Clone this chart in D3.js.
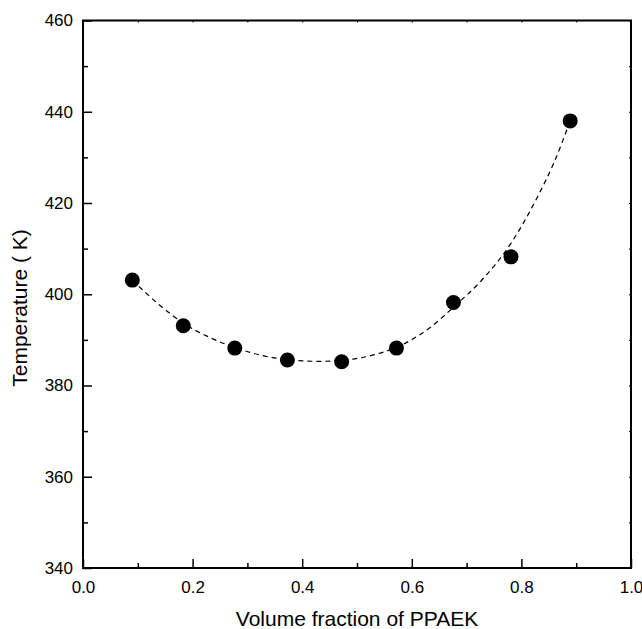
<html>
  <head>
    <title>PPAEK</title>
    <meta charset="utf-8" />
    <script src="https://cdnjs.cloudflare.com/ajax/libs/d3/7.6.1/d3.min.js"></script>
    <style>
      body { margin: 0; background: #fff; }
      svg { font-family: "Liberation Sans", Arial, sans-serif; }
    </style>
  </head>
  <body>
    <svg width="642" height="629"></svg>
  </body>

  <script>
    // measured points
    const fraction = [0.09, 0.183, 0.277, 0.373, 0.472, 0.572, 0.676, 0.781, 0.889];
    const temperature = [403.1, 393.1, 388.2, 385.6, 385.2, 388.2, 398.2, 408.2, 438.0];

    // dashed fit line
    const fitX = [0.09, 0.14, 0.18, 0.23, 0.28, 0.33, 0.38, 0.43, 0.48, 0.53, 0.58, 0.63, 0.68, 0.73, 0.78, 0.83, 0.86, 0.889];
    const fitY = [403.1, 397.6, 393.9, 390.6, 388.2, 386.5, 385.6, 385.3, 385.6, 386.7, 388.8, 392.4, 397.6, 403.4, 411.0, 421.5, 429.0, 438.0];

    const xTicks = [0, 0.2, 0.4, 0.6, 0.8, 1.0];
    const xMinor = [0.1, 0.3, 0.5, 0.7, 0.9];
    const yTicks = [340, 360, 380, 400, 420, 440, 460];
    const yMinor = [350, 370, 390, 410, 430, 450];

    const svg = d3.select("svg");
    const x = d3.scaleLinear().domain([0, 1]).range([83, 631]);
    const y = d3.scaleLinear().domain([340, 460]).range([568, 20.5]);

    const pLeft = 83, pRight = 631, pTop = 20.5, pBottom = 568;

    // bottom axis
    const xAxis = d3.axisBottom(x).tickValues(xTicks).tickSize(-9).tickPadding(13)
      .tickFormat(d3.format(".1f"));
    const gx = svg.append("g").attr("transform", `translate(0,${pBottom})`).call(xAxis);
    gx.select(".domain").remove();
    gx.selectAll("text").attr("font-size", 17).attr("fill", "#000").attr("font-family", "Liberation Sans, Arial, sans-serif");
    gx.selectAll("line").attr("stroke-width", 1.5);
    const gxm = svg.append("g").attr("transform", `translate(0,${pBottom})`)
      .call(d3.axisBottom(x).tickValues(xMinor).tickSize(-5).tickFormat(""));
    gxm.select(".domain").remove();
    gxm.selectAll("line").attr("stroke-width", 1.5);

    // left axis
    const yAxis = d3.axisLeft(y).tickValues(yTicks).tickSize(-9).tickPadding(10);
    const gy = svg.append("g").attr("transform", `translate(${pLeft},0)`).call(yAxis);
    gy.select(".domain").remove();
    gy.selectAll("text").attr("font-size", 17).attr("fill", "#000").attr("font-family", "Liberation Sans, Arial, sans-serif");
    gy.selectAll("line").attr("stroke-width", 1.5);
    const gym = svg.append("g").attr("transform", `translate(${pLeft},0)`)
      .call(d3.axisLeft(y).tickValues(yMinor).tickSize(-5).tickFormat(""));
    gym.select(".domain").remove();
    gym.selectAll("line").attr("stroke-width", 1.5);

    // top and right small marks
    const gt = svg.append("g").attr("transform", `translate(0,${pTop})`)
      .call(d3.axisTop(x).tickValues(xTicks.concat(xMinor)).tickSize(-2).tickFormat(""));
    gt.select(".domain").remove();
    const gr = svg.append("g").attr("transform", `translate(${pRight},0)`)
      .call(d3.axisRight(y).tickValues(yTicks.concat(yMinor)).tickSize(-2).tickFormat(""));
    gr.select(".domain").remove();

    // frame
    svg.append("rect")
      .attr("x", pLeft).attr("y", pTop)
      .attr("width", pRight - pLeft).attr("height", pBottom - pTop)
      .attr("fill", "none").attr("stroke", "#000").attr("stroke-width", 2);

    // fit line
    const fit = fitX.map((v, i) => [v, fitY[i]]);
    svg.append("path")
      .attr("d", d3.line().x((d) => x(d[0])).y((d) => y(d[1])).curve(d3.curveMonotoneX)(fit))
      .attr("fill", "none")
      .attr("stroke", "#000")
      .attr("stroke-width", 1.2)
      .attr("stroke-dasharray", "5,4");

    // points
    svg.selectAll("circle.pt")
      .data(fraction)
      .enter()
      .append("circle")
      .attr("class", "pt")
      .attr("r", 7.5)
      .attr("cx", (d) => x(d))
      .attr("cy", (d, i) => y(temperature[i]))
      .attr("fill", "#000");

    // titles
    svg.append("text")
      .attr("x", (pLeft + pRight) / 2)
      .attr("y", 626)
      .attr("text-anchor", "middle")
      .attr("font-size", 21)
      .text("Volume fraction of PPAEK");

    svg.append("text")
      .attr("transform", "translate(27,308) rotate(-90)")
      .attr("text-anchor", "middle")
      .attr("font-size", 21)
      .text("Temperature ( K)");
  </script>
</html>
